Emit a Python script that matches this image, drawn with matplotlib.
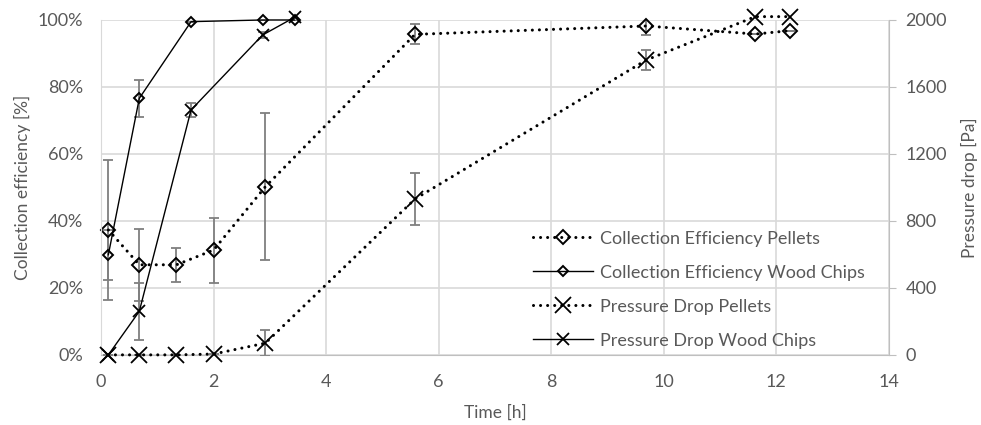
import matplotlib
matplotlib.use('Agg')
import matplotlib.pyplot as plt
from matplotlib.ticker import FuncFormatter

plt.rcParams['font.family'] = ['Lato', 'DejaVu Sans']

# pellets: time [h], efficiency [%], pressure drop [Pa]
time_pellets = [0.13, 0.68, 1.34, 2.0, 2.92, 5.58, 9.69, 11.63, 12.24]
ce_pellets = [37.3, 26.9, 26.9, 31.3, 50.2, 95.7, 98.2, 95.8, 96.8]
ce_pellets_err = [21.0, 10.7, 5.0, 9.7, 22.0, 3.0, 2.6, 0, 0]
pd_pellets = [0, 0, 0, 5, 70, 931, 1761, 2020, 2020]
pd_pellets_err = [0, 0, 0, 0, 78, 153, 62, 0, 0]

# wood chips
time_chips = [0.13, 0.68, 1.6, 2.87, 3.44]
ce_chips = [29.9, 76.6, 99.5, 100.0, 100.0]
ce_chips_err = [7.5, 5.6, 0, 0, 0]
pd_chips = [0, 260, 1463, 1910, 2016]
pd_chips_err = [0, 170, 42, 20, 0]

grey = '#595959'
grid_c = '#d9d9d9'
err_c = '#7f7f7f'
dots = (0, (0.01, 2.3))

fig = plt.figure(figsize=(9.81, 4.25), dpi=100)
ax = fig.add_axes([0.103, 0.165, 0.803, 0.788])
ax2 = ax.twinx()

ce_y = [v / 100 for v in ce_pellets]
ce_e = [v / 100 for v in ce_pellets_err]
cw_y = [v / 100 for v in ce_chips]
cw_e = [v / 100 for v in ce_chips_err]

ax.errorbar(time_pellets, ce_y, yerr=ce_e, fmt='none', ecolor=err_c, elinewidth=1.3, capsize=3.5, capthick=1.3)
ax.errorbar(time_chips, cw_y, yerr=cw_e, fmt='none', ecolor=err_c, elinewidth=1.3, capsize=3.5, capthick=1.3)
l1, = ax.plot(time_pellets, ce_y, color='black', lw=2.2, linestyle=dots, dash_capstyle='round',
              marker='D', ms=7, mfc='none', mec='black', mew=1.4, clip_on=False,
              label='Collection Efficiency Pellets')
l2, = ax.plot(time_chips, cw_y, color='black', lw=1.0, marker='D', ms=5.5, mfc='none', mec='black',
              mew=1.4, clip_on=False, label='Collection Efficiency Wood Chips')

ax2.errorbar(time_pellets, pd_pellets, yerr=pd_pellets_err, fmt='none', ecolor=err_c, elinewidth=1.3, capsize=3.5, capthick=1.3)
ax2.errorbar(time_chips, pd_chips, yerr=pd_chips_err, fmt='none', ecolor=err_c, elinewidth=1.3, capsize=3.5, capthick=1.3)
l3, = ax2.plot(time_pellets, pd_pellets, color='black', lw=2.2, linestyle=dots, dash_capstyle='round',
               marker='x', ms=11, mec='black', mew=1.3, clip_on=False, label='Pressure Drop Pellets')
l4, = ax2.plot(time_chips, pd_chips, color='black', lw=1.0, marker='x', ms=9, mec='black',
               mew=1.3, clip_on=False, label='Pressure Drop Wood Chips')

ax.set_xlim(0, 14)
ax.set_xticks(range(0, 15, 2))
ax.set_ylim(0, 1)
ax.set_yticks([0, 0.2, 0.4, 0.6, 0.8, 1.0])
ax.yaxis.set_major_formatter(FuncFormatter(lambda v, p: f'{v * 100:.0f}%'))
ax2.set_ylim(0, 2000)
ax2.set_yticks(range(0, 2001, 400))

ax.grid(True, color=grid_c, lw=1.2)
ax.set_axisbelow(True)

for a in (ax, ax2):
    for s in a.spines.values():
        s.set_visible(False)
ax.spines['left'].set_visible(True)
ax.spines['left'].set_color(grid_c)
ax.spines['bottom'].set_visible(True)
ax.spines['bottom'].set_color('#bfbfbf')
ax2.spines['right'].set_visible(True)
ax2.spines['right'].set_color('#bfbfbf')

ax.tick_params(axis='x', length=0, labelsize=13, labelcolor=grey, pad=14)
ax.tick_params(axis='y', length=0, labelsize=13, labelcolor=grey, pad=13)
ax2.tick_params(axis='y', length=5, color='#bfbfbf', labelsize=13, labelcolor=grey, pad=7)

ax.set_xlabel('Time [h]', fontsize=12.5, color=grey, labelpad=10)
ax.set_ylabel('Collection efficiency [%]', fontsize=12.5, color=grey, labelpad=5)
ax2.set_ylabel('Pressure drop [Pa]', fontsize=12.5, color=grey, labelpad=10)

leg = ax2.legend(handles=[l1, l2, l3, l4], loc='lower right', bbox_to_anchor=(0.99, -0.03),
                 frameon=False, fontsize=13, labelcolor=grey, handlelength=3.3,
                 handletextpad=0.4, labelspacing=1.0)

fig.savefig('out.png', dpi=100)
